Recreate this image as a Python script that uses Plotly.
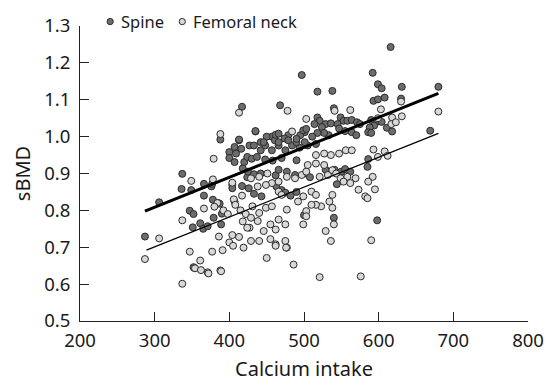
import plotly.graph_objects as go

# ---- data ----
spine_x = [287, 306, 336, 337, 347, 349, 351, 352, 361, 365, 366, 366, 371, 376, 377, 378, 379, 385, 387, 389,
           390, 388, 400, 400, 404, 404, 407, 407, 407, 409, 413, 413, 416, 417, 417, 418, 420, 424, 424, 435,
           427, 433, 442, 448, 457, 466, 475, 484, 494, 505, 516,
           430, 437, 448, 458, 470, 490,
           425, 433, 442, 462, 466, 477, 488, 503, 508, 529, 541, 550, 555, 562,
           426, 433, 443, 463, 470, 475, 482, 490,
           500, 540, 544,
           468, 497, 518, 538, 540, 518, 521, 514, 529, 524, 536, 549, 553, 545, 547, 558, 564, 571, 575, 555,
           564, 570, 533, 527, 518, 511, 501, 495, 479, 474, 457, 450, 435, 442, 446, 461, 466, 479, 490, 501,
           462, 466, 490, 499, 503,
           586, 585, 598, 592, 599, 604, 616, 631, 680, 593, 599, 608, 630, 590, 597, 604, 594, 588, 611, 618,
           586, 590, 669]
spine_y = [0.729, 0.822, 0.858, 0.899, 0.799, 0.855, 0.754, 0.790, 0.765, 0.750, 0.872, 0.840, 0.757, 0.865, 0.872, 0.829, 0.780, 0.820, 0.818, 0.762,
           0.791, 0.992, 0.958, 0.942, 0.869, 0.860, 0.972, 0.931, 0.824, 0.954, 0.990, 0.992, 0.967, 1.081, 0.866, 0.914, 0.931, 0.945, 0.890, 1.014,
           0.976, 0.976, 0.963, 0.976, 0.963, 0.976, 0.963, 0.976, 0.970, 0.976, 0.980,
           0.940, 0.945, 0.938, 0.935, 0.942, 0.936,
           0.905, 0.898, 0.900, 0.895, 0.910, 0.905, 0.896, 0.900, 0.890, 0.910, 0.910, 0.905, 0.912, 0.905,
           0.860, 0.845, 0.838, 0.865, 0.855, 0.848, 0.840, 0.850,
           0.787, 0.780, 0.871,
           1.085, 1.167, 1.122, 1.124, 1.077, 1.052, 1.043, 1.034, 1.034, 1.026, 1.036, 1.052, 1.043, 1.034, 1.022, 1.043, 1.045, 1.039, 1.034, 1.015,
           1.012, 1.004, 1.004, 1.010, 1.010, 1.000, 1.012, 1.004, 1.004, 0.995, 1.000, 1.000, 1.015, 0.985, 0.985, 0.990, 0.985, 0.990, 0.985, 0.985,
           1.005, 1.008, 0.994, 1.017, 1.021,
           0.939, 0.918, 0.773, 1.173, 1.142, 1.131, 1.243, 1.135, 1.135, 1.097, 1.101, 1.106, 1.103, 1.045, 1.040, 1.040, 1.030, 1.025, 1.024, 1.014,
           1.012, 1.010, 1.016]

neck_x = [287, 306, 337, 337, 347, 349, 352, 353, 354, 361, 362, 366, 371, 372, 377, 378, 379, 384, 386, 388,
          388, 389, 391, 380, 392, 398, 400, 404, 404, 405, 406, 408, 413, 413, 415, 417, 418, 419, 422, 427,
          516, 527, 536, 547, 556, 564, 516, 527, 521, 532, 538, 543, 549, 558, 569, 553, 562, 573, 582,
          477, 488, 497, 503, 505, 466, 457, 449, 438, 429, 440, 451, 466, 470, 492, 499, 510, 516, 523, 534,
          538, 538, 540, 529, 536, 516, 510, 503, 503, 499, 431, 449, 457, 477, 440, 429, 438, 466, 455, 424,
          446, 462, 475, 429, 440, 475, 462, 477, 455,
          593, 608, 612, 599, 592, 586, 595, 585, 590, 603, 680, 618, 631, 599, 617, 630, 478, 503, 541, 562,
          484, 623,
          450, 486, 521, 576, 462, 476]
neck_y = [0.668, 0.724, 0.773, 0.601, 0.688, 0.880, 0.646, 0.644, 0.643, 0.664, 0.638, 0.805, 0.632, 0.629, 0.688, 0.884, 0.940, 0.820, 0.729, 1.007,
          0.637, 0.635, 0.692, 0.810, 0.800, 0.790, 0.713, 0.733, 0.875, 0.704, 0.830, 0.815, 1.065, 0.728, 0.800, 0.840, 0.770, 0.699, 0.790, 0.753,
          0.950, 0.954, 0.950, 0.954, 0.963, 0.963, 0.927, 0.923, 0.891, 0.896, 0.909, 0.900, 0.887, 0.891, 0.887, 0.878, 0.874, 0.856, 0.838,
          0.891, 0.887, 0.896, 0.905, 0.923, 0.878, 0.874, 0.869, 0.865, 0.887, 0.891, 0.900, 0.851, 0.842, 0.824, 0.838, 0.851, 0.842, 0.811, 0.824,
          0.842, 0.807, 0.762, 0.744, 0.717, 0.815, 0.815, 0.798, 0.784, 0.762, 0.811, 0.807, 0.811, 0.802, 0.793, 0.780, 0.771, 0.775, 0.762, 0.753,
          0.744, 0.748, 0.762, 0.717, 0.717, 0.717, 0.708, 0.699, 0.722,
          0.965, 0.960, 0.948, 0.945, 0.891, 0.878, 0.857, 0.833, 0.719, 1.074, 1.068, 1.052, 1.055, 1.050, 1.034, 1.095, 1.070, 1.048, 1.070, 1.072,
          1.014, 1.039,
          0.671, 0.653, 0.619, 0.621, 0.704, 0.699]

spine_fit_x = [287, 680]
spine_fit_y = [0.798, 1.117]
neck_fit_x = [289, 680]
neck_fit_y = [0.692, 1.009]

x_ticks = [200, 300, 400, 500, 600, 700, 800]
y_ticks = [0.5, 0.6, 0.7, 0.8, 0.9, 1.0, 1.1, 1.2, 1.3]
y_tick_text = ["0.5", "0.6", "0.7", "0.8", "0.9", "1.0", "1.1", "1.2", "1.3"]
legend_labels = ["Spine", "Femoral neck"]

FONT = "Noto Sans"
TXT = "#1a1a1a"
DARK = "#6c6c6c"
LIGHT = "#d8d8d8"
EDGE = "#2b2b2b"

W, H = 556, 388
ML, MR, MT, MB = 80, 16, 22, 67
PW, PH = W - ML - MR, H - MT - MB

def px_to_paper_x(px):
    return (px - ML) / PW

def px_to_paper_y(py):
    return (H - MB - py) / PH

outline = dict(color=EDGE, width=1)

fig = go.Figure()
fig.add_trace(go.Scatter(x=spine_x, y=spine_y, mode="markers", name=legend_labels[0],
                         showlegend=False, marker=dict(size=7, color=DARK, line=outline)))
fig.add_trace(go.Scatter(x=neck_x, y=neck_y, mode="markers", name=legend_labels[1],
                         showlegend=False, marker=dict(size=7, color=LIGHT, line=outline)))
fig.add_trace(go.Scatter(x=spine_fit_x, y=spine_fit_y, mode="lines", showlegend=False,
                         line=dict(color="black", width=3)))
fig.add_trace(go.Scatter(x=neck_fit_x, y=neck_fit_y, mode="lines", showlegend=False,
                         line=dict(color="black", width=1.3)))

# legend drawn as small circles + labels above the plot area
legend_items = [(111, legend_labels[0], DARK), (185, legend_labels[1], LIGHT)]
shapes = []
annotations = []
r = 3.2
for cx, label, col in legend_items:
    cy = 17.5
    shapes.append(dict(type="circle", xref="paper", yref="paper",
                       x0=px_to_paper_x(cx - r), x1=px_to_paper_x(cx + r),
                       y0=px_to_paper_y(cy + r), y1=px_to_paper_y(cy - r),
                       fillcolor=col, line=dict(color=EDGE, width=1)))
    annotations.append(dict(text=label, xref="paper", yref="paper",
                            x=px_to_paper_x(cx + 9), y=px_to_paper_y(cy),
                            xanchor="left", yanchor="middle", showarrow=False,
                            font=dict(family=FONT, size=16.5, color=TXT)))

fig.update_layout(
    width=W, height=H,
    margin=dict(l=ML, r=MR, t=MT, b=MB),
    paper_bgcolor="white", plot_bgcolor="white",
    font=dict(family=FONT, size=18, color=TXT),
    showlegend=False,
    shapes=shapes,
    annotations=annotations,
    xaxis=dict(range=[200, 800], tickvals=x_ticks, ticks="inside", ticklen=9, tickcolor="#222",
               showline=True, linecolor="#222", linewidth=1, showgrid=False, zeroline=False,
               ticklabelstandoff=3,
               title=dict(text="Calcium intake", font=dict(size=20), standoff=10),
               tickfont=dict(size=18.5)),
    yaxis=dict(range=[0.5, 1.3], tickvals=y_ticks, ticktext=y_tick_text, ticks="inside", ticklen=9,
               tickcolor="#222", showline=True, linecolor="#222", linewidth=1, showgrid=False,
               zeroline=False, ticklabelstandoff=5,
               title=dict(text="sBMD", font=dict(size=20), standoff=8),
               tickfont=dict(size=18.5)),
)

fig.write_html("out.html")
